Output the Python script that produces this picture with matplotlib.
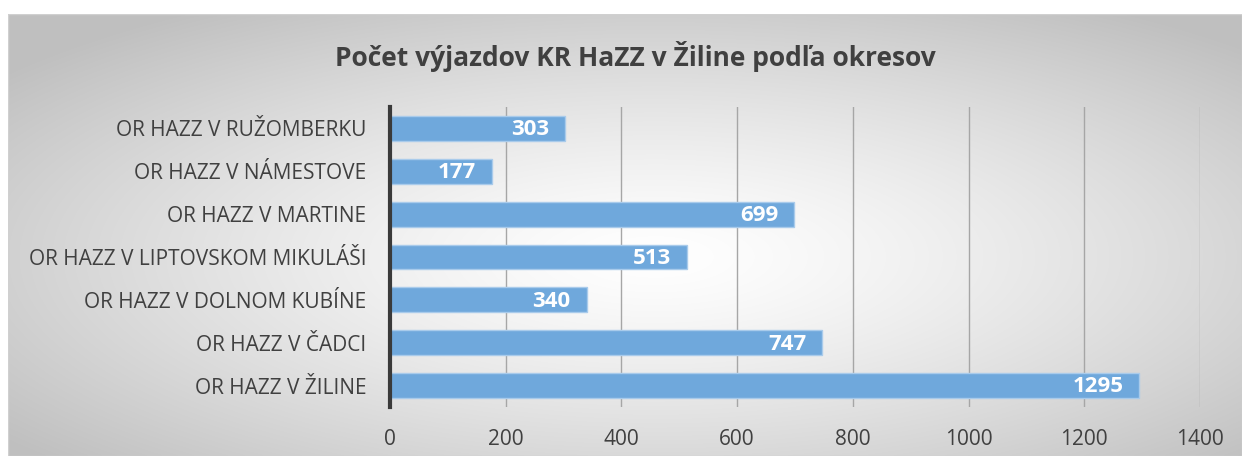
import numpy as np
import matplotlib.pyplot as plt

# data (top to bottom as shown in the chart)
categories = ['OR HAZZ V RUŽOMBERKU', 'OR HAZZ V NÁMESTOVE', 'OR HAZZ V MARTINE',
              'OR HAZZ V LIPTOVSKOM MIKULÁŠI', 'OR HAZZ V DOLNOM KUBÍNE',
              'OR HAZZ V ČADCI', 'OR HAZZ V ŽILINE']
values = [303, 177, 699, 513, 340, 747, 1295]
title = 'Počet výjazdov KR HaZZ v Žiline podľa okresov'

plt.rcParams['font.family'] = ['Open Sans', 'DejaVu Sans']

fig = plt.figure(figsize=(12.42, 4.59), dpi=100)
fig.patch.set_facecolor('white')

# radial gradient background of the chart area
bg = fig.add_axes([8 / 1242, 3 / 459, 1 - 8 / 1242, (459 - 17) / 459], zorder=0)
nx, ny = 600, 220
xx, yy = np.meshgrid(np.linspace(-1, 1, nx), np.linspace(-1, 1, ny))
r = np.sqrt(((xx - 0.05) / 1.0) ** 2 + ((yy - 0.1) / 1.0) ** 2)
r = np.clip(r / 1.35, 0, 1)
shade = 1.0 - 0.25 * r ** 1.3
img = np.dstack([shade, shade, shade])
bg.imshow(img, aspect='auto', extent=[0, 1, 0, 1], interpolation='bilinear')
bg.set_axis_off()
bg.add_patch(plt.Rectangle((0, 0), 1, 1, fill=False, edgecolor='#d0d0d0', lw=1,
                           transform=bg.transAxes))

ax = fig.add_axes([390 / 1242, (459 - 407) / 459, 810 / 1242, 300 / 459], zorder=1)
ax.patch.set_alpha(0)

y = np.arange(len(categories))[::-1]
bars = ax.barh(y, values, height=0.58, color='#6fa8dc', edgecolor='#a9cbeb',
               linewidth=1, zorder=3)
for b, v in zip(bars, values):
    ax.annotate(str(v), (b.get_width(), b.get_y() + b.get_height() / 2),
                xytext=(-11.5, -1), textcoords='offset points',
                ha='right', va='center', color='white', fontsize=16,
                fontweight='bold', zorder=4)

ax.set_xlim(0, 1400)
ax.set_ylim(-0.5, len(categories) - 0.5)
ax.set_xticks(range(0, 1401, 200))
ax.set_yticks(y)
ax.set_yticklabels(categories)
ax.tick_params(axis='both', length=0, labelsize=15, colors='#404040')
ax.tick_params(axis='y', pad=17)
ax.tick_params(axis='x', pad=16)
ax.grid(axis='x', color='#a6a6a6', lw=1, zorder=1)
for s in ['top', 'right', 'bottom']:
    ax.spines[s].set_visible(False)
ax.spines['left'].set_color('#3a3a3a')
ax.spines['left'].set_linewidth(3)
ax.spines['left'].set_zorder(5)

fig.text(635 / 1242, 1 - 56 / 459, title, ha='center', va='center', fontsize=19,
         fontweight='bold', color='#404040')

fig.savefig('out.png', dpi=100)
